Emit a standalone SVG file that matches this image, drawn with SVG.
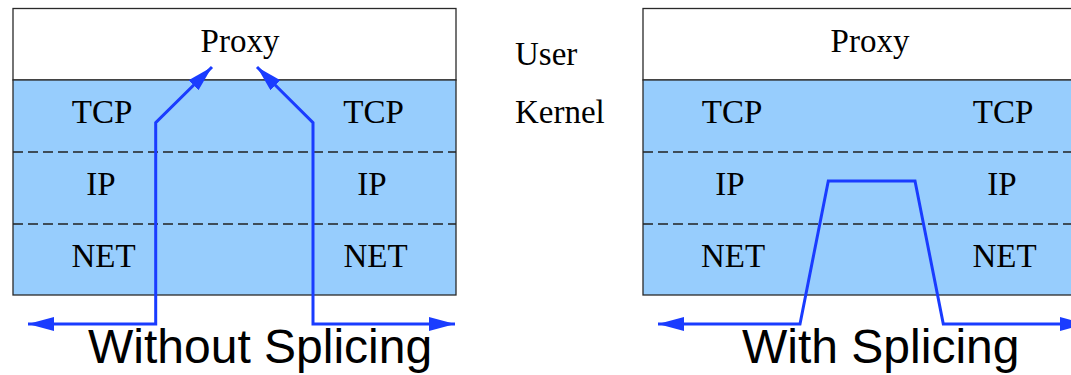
<svg xmlns="http://www.w3.org/2000/svg" width="1071" height="375" viewBox="0 0 1071 375">
  <style>
    .user { fill: #ffffff; stroke: #2a2a2a; stroke-width: 1.3; }
    .kernel { fill: #97cdfd; stroke: #2a2a2a; stroke-width: 1.3; }
    .layer { stroke: #222222; stroke-width: 1.3; stroke-dasharray: 10 5; fill: none; }
    .lbl { font-family: "Liberation Serif", "Times New Roman", serif; font-size: 33px; fill: #000000; text-anchor: middle; }
    .side { font-family: "Liberation Serif", "Times New Roman", serif; font-size: 33px; fill: #000000; }
    .title { font-family: "Liberation Sans", Arial, sans-serif; font-size: 48px; fill: #000000; }
    .flow { fill: none; stroke: #1a3cff; stroke-width: 3; stroke-linejoin: miter; marker-start: url(#head); marker-end: url(#head); }
  </style>
  <defs>
    <marker id="head" markerUnits="userSpaceOnUse" markerWidth="28" markerHeight="16" refX="26" refY="7" orient="auto-start-reverse">
      <path d="M0,0 L26,7 L0,14 Z" fill="#1a3cff"/>
    </marker>
  </defs>

  <rect width="1071" height="375" fill="#ffffff"/>

  <!-- stack without splicing -->
  <g id="stack-without-splicing">
    <rect class="user" x="13" y="8.5" width="443" height="71.5"/>
    <rect class="kernel" x="13" y="80" width="443" height="215"/>
    <line class="layer" x1="13" y1="152" x2="456" y2="152"/>
    <line class="layer" x1="13" y1="224" x2="456" y2="224"/>
    <text class="lbl" x="240" y="52">Proxy</text>
    <text class="lbl" x="102" y="123">TCP</text>
    <text class="lbl" x="101" y="195">IP</text>
    <text class="lbl" x="103.5" y="267">NET</text>
    <text class="lbl" x="373.5" y="123">TCP</text>
    <text class="lbl" x="372" y="195">IP</text>
    <text class="lbl" x="375.5" y="267">NET</text>
  </g>

  <!-- stack with splicing -->
  <g id="stack-with-splicing">
    <rect class="user" x="643" y="8.5" width="444" height="71.5"/>
    <rect class="kernel" x="643" y="80" width="444" height="215"/>
    <line class="layer" x1="643" y1="152" x2="1087" y2="152"/>
    <line class="layer" x1="643" y1="224" x2="1087" y2="224"/>
    <text class="lbl" x="870" y="52">Proxy</text>
    <text class="lbl" x="732" y="123">TCP</text>
    <text class="lbl" x="730" y="195">IP</text>
    <text class="lbl" x="733" y="267">NET</text>
    <text class="lbl" x="1003" y="123">TCP</text>
    <text class="lbl" x="1002" y="195">IP</text>
    <text class="lbl" x="1004.5" y="267">NET</text>
  </g>

  <!-- user / kernel space labels -->
  <g id="space-labels">
    <text class="side" x="515" y="65">User</text>
    <text class="side" x="515" y="123">Kernel</text>
  </g>

  <!-- data paths -->
  <g id="connectors">
    <path class="flow" d="M28,324 H155.7 V122.7 L212,67"/>
    <path class="flow" d="M257,67 L313,122.7 V324 H455"/>
    <path class="flow" d="M658,324 H800 L828.3,181 H915 L943.3,324 H1086"/>
  </g>

  <!-- captions -->
  <g id="captions">
    <text class="title" x="88" y="363">Without Splicing</text>
    <text class="title" x="742" y="363">With Splicing</text>
  </g>
</svg>
